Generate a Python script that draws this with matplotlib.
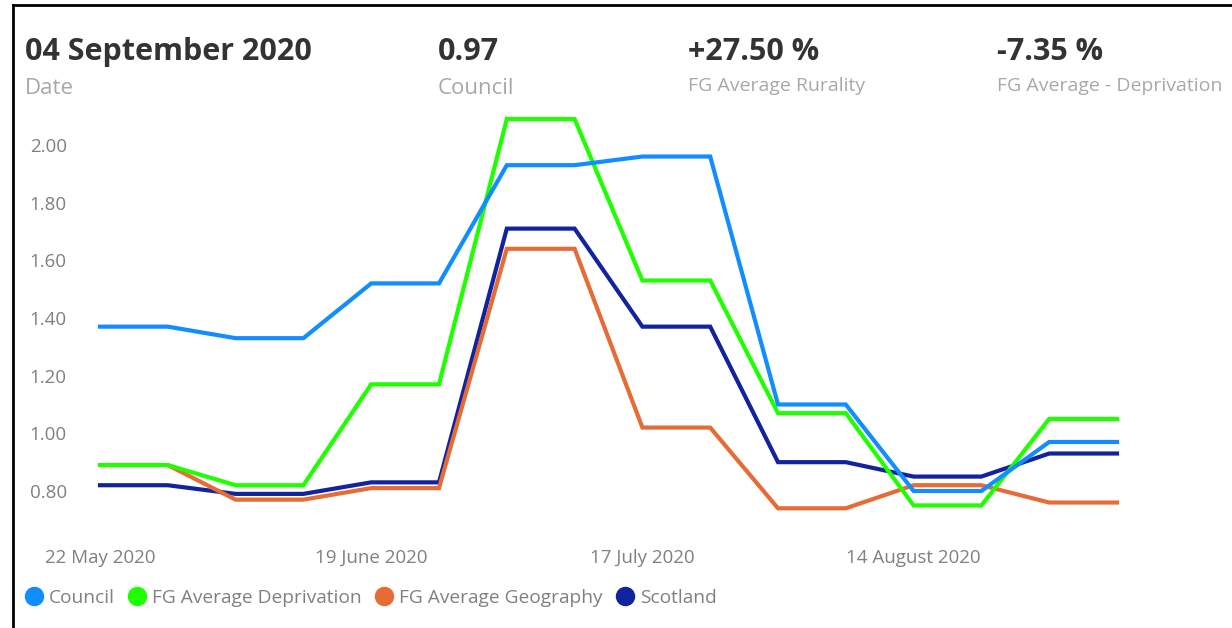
import numpy as np
import pandas as pd
import matplotlib
matplotlib.use("Agg")
import matplotlib.pyplot as plt
import matplotlib.dates as mdates
from matplotlib.lines import Line2D

plt.rcParams['font.family'] = ['Open Sans', 'DejaVu Sans']

# data
dates = pd.date_range("2020-05-22", periods=16, freq="7D")
council = [1.37, 1.37, 1.33, 1.33, 1.52, 1.52, 1.93, 1.93, 1.96, 1.96, 1.10, 1.10, 0.80, 0.80, 0.97, 0.97]
fg_deprivation = [0.89, 0.89, 0.82, 0.82, 1.17, 1.17, 2.09, 2.09, 1.53, 1.53, 1.07, 1.07, 0.75, 0.75, 1.05, 1.05]
fg_geography = [0.89, 0.89, 0.77, 0.77, 0.81, 0.81, 1.64, 1.64, 1.02, 1.02, 0.74, 0.74, 0.82, 0.82, 0.76, 0.76]
scotland = [0.82, 0.82, 0.79, 0.79, 0.83, 0.83, 1.71, 1.71, 1.37, 1.37, 0.90, 0.90, 0.85, 0.85, 0.93, 0.93]

series_names = ["Council", "FG Average Deprivation", "FG Average Geography", "Scotland"]
series_vals = [council, fg_deprivation, fg_geography, scotland]
colors = ["#118DFF", "#1EFF00", "#E66C37", "#12239E"]

tick_dates = pd.to_datetime(["2020-05-22", "2020-06-19", "2020-07-17", "2020-08-14"])
yticks = [0.80, 1.00, 1.20, 1.40, 1.60, 1.80, 2.00]

# cards
card_values = ["04 September 2020", "0.97", "+27.50 %", "-7.35 %"]
card_labels = ["Date", "Council", "FG Average Rurality", "FG Average - Deprivation"]

W, H = 1232, 628
fig = plt.figure(figsize=(W / 100, H / 100), dpi=100)

# axes placed in pixel space
ymin, ymax = 0.70, 2.15
ppu = (491 - 145) / 1.2
y_top_px = 145 - (ymax - 2.0) * ppu
y_bot_px = 491 + (0.80 - ymin) * ppu
x_left, x_right = 100, 1117
ax = fig.add_axes([x_left / W, 1 - y_bot_px / H, (x_right - x_left) / W, (y_bot_px - y_top_px) / H])

for name, vals, c in reversed(list(zip(series_names, series_vals, colors))):
    ax.plot(dates, vals, color=c, lw=3.0, solid_joinstyle="miter", clip_on=False)

ax.set_xlim(dates[0], dates[-1])
ax.set_ylim(ymin, ymax)
ax.set_yticks(yticks)
ax.set_yticklabels([f"{v:.2f}" for v in yticks])
ax.set_xticks(tick_dates)
ax.xaxis.set_major_formatter(mdates.DateFormatter("%d %B %Y"))
for s in ax.spines.values():
    s.set_visible(False)
ax.tick_params(length=0, labelsize=13.5, labelcolor="#808080")
ax.tick_params(axis="y", pad=24)
ax.tick_params(axis="x", pad=21)

# card row
card_x = [25, 438, 688, 997]
for i, (v, l, x) in enumerate(zip(card_values, card_labels, card_x)):
    fig.text(x / W, 1 - 60 / H, v, fontsize=22, fontweight="bold", color="#333333", ha="left", va="baseline")
    fig.text(x / W, 1 - (94 if i < 2 else 91) / H, l, fontsize=16 if i < 2 else 14,
             color="#A8A8A8", ha="left", va="baseline")

# legend
handles = [Line2D([], [], ls="none", marker="o", markersize=13, color=c) for c in colors]
leg = fig.legend(handles, series_names, loc="center left", bbox_to_anchor=(27 / W, 1 - 598 / H),
                 ncol=4, frameon=False, fontsize=13.8, handlelength=0.7, handletextpad=0.45,
                 columnspacing=0.8, borderaxespad=0, borderpad=0)
for t in leg.get_texts():
    t.set_color("#808080")

# frame lines of the screenshot
fig.add_artist(Line2D([13 / W, 1], [1 - 5 / H, 1 - 5 / H], color="black", lw=2))
fig.add_artist(Line2D([13 / W, 13 / W], [0, 1 - 5 / H], color="black", lw=2))

fig.savefig("out.png", dpi=100)
